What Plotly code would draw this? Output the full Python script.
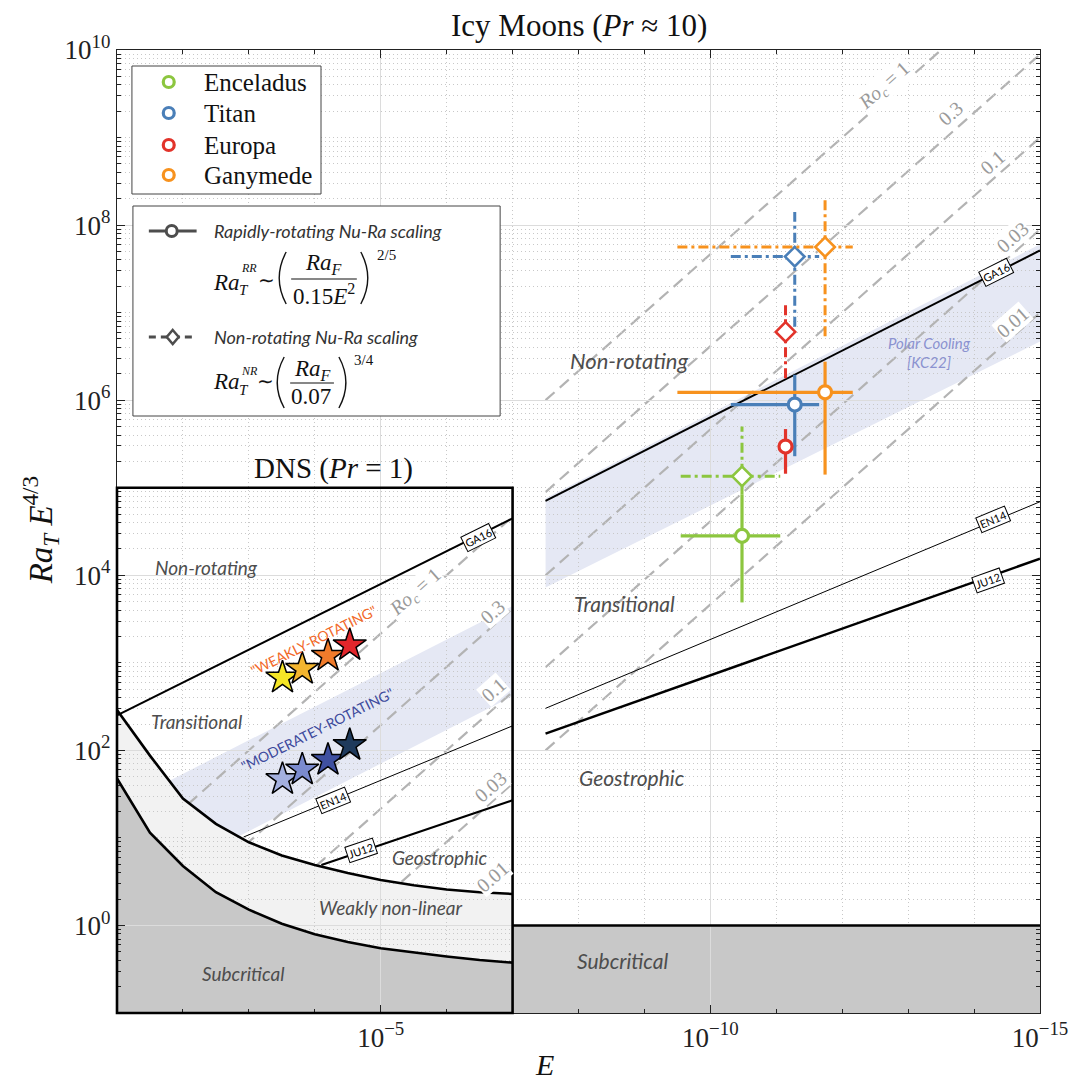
import numpy as np
import plotly.graph_objects as go

# ---------------- DATA (log10 values) ----------------
# Main panel: Icy moons (Pr ~ 10)
ga16_main_logE = [-7.5, -15.0]
ga16_main_logRa = [4.85, 7.71]
en14_main_logE = [-7.5, -15.0]
en14_main_logRa = [2.48, 4.84]
ju12_main_logE = [-7.5, -15.0]
ju12_main_logRa = [2.19, 4.19]
kc22_logE = [-7.5, -15.0]
kc22_upper_logRa = [4.88, 7.78]
kc22_lower_logRa = [3.86, 6.67]

roc_labels = ["1", "0.3", "0.1", "0.03", "0.01"]
roc_main_logE = [-7.5, -15.0]
roc_main_logRa_start = [6.0, 4.95, 4.0, 2.95, 2.0]
roc_main_logRa_end = [11.0, 9.95, 9.0, 7.95, 7.0]

subcrit_main_logE = [-7.0, -15.0]
subcrit_main_logRa = [0.0, 0.0]

moons = ["Enceladus", "Titan", "Europa", "Ganymede"]
moon_colors = ["#8cc63f", "#4a7fb8", "#e2332a", "#f7921e"]
moon_logE = [-10.48, -11.28, -11.14, -11.74]
moon_logE_left = [-9.55, -10.31, -11.14, -9.50]
moon_logE_right = [-11.06, -11.65, -11.14, -12.16]
rr_logRa = [4.45, 5.95, 5.47, 6.09]
rr_logRa_lo = [3.69, 5.36, 5.16, 5.15]
rr_logRa_hi = [4.92, 6.29, 5.67, 6.44]
nr_logRa = [5.13, 7.64, 6.78, 7.75]
nr_logRa_lo = [4.92, 6.84, 6.25, 6.73]
nr_logRa_hi = [5.70, 8.15, 7.13, 8.29]

# Inset: DNS (Pr = 1)
ga16_dns_logE = [-1.0, -7.0]
ga16_dns_logRa = [2.40, 4.65]
en14_dns_logE = [-2.92, -7.0]
en14_dns_logRa = [1.01, 2.28]
ju12_dns_logE = [-4.10, -7.0]
ju12_dns_logRa = [0.69, 1.43]
band_dns_logE = [-1.5, -7.0]
band_dns_upper_logRa = [1.54, 3.65]
band_dns_lower_logRa = [0.50, 2.62]
roc_dns_logE = [-1.0, -7.0]
roc_dns_logRa_start = [0.667, -0.379, -1.333, -2.379, -3.333]
roc_dns_logRa_end = [4.667, 3.621, 2.667, 1.621, 0.667]

curve_logE = [-1.0, -1.5, -2.0, -2.5, -3.0, -3.5, -4.0, -4.5, -5.0, -5.5, -6.0, -6.5, -7.0]
wnl_upper_logRa = [2.46, 1.94, 1.45, 1.16, 0.95, 0.80, 0.69, 0.60, 0.52, 0.46, 0.41, 0.38, 0.36]
onset_logRa = [1.68, 1.06, 0.68, 0.38, 0.18, 0.02, -0.10, -0.19, -0.26, -0.31, -0.355, -0.395, -0.425]

star_logE = [-3.51, -3.81, -4.20, -4.53]
weak_logRa = [2.83, 2.93, 3.08, 3.20]
moder_logRa = [1.67, 1.78, 1.89, 2.06]
weak_colors = ["#f5e626", "#f3b52f", "#f07b2b", "#e2262b"]
moder_colors = ["#a4b0df", "#7b8bcf", "#3f50a0", "#1f3a5c"]

x_tick_vals = [1e-5, 1e-10, 1e-15]
x_tick_text = ["10<sup>\u22125</sup>", "10<sup>\u221210</sup>", "10<sup>\u221215</sup>"]
y_tick_vals = [1e0, 1e2, 1e4, 1e6, 1e8, 1e10]
y_tick_text = ["10<sup>0</sup>", "10<sup>2</sup>", "10<sup>4</sup>", "10<sup>6</sup>", "10<sup>8</sup>", "10<sup>10</sup>"]


def P10(v):
    return [None if a is None else 10.0 ** a for a in v]


# ---------------- geometry helpers (page pixel -> paper) ----------------
L, R, T, B = 117, 1044.5, 50, 1013   # plot area on the page
OFF = 8                               # default body margin of the html page
W = H = 1072


def PX(px):
    return (px - L) / (R - L)


def PY(py):
    return (B - py) / (B - T)


def DX(logE):
    return (-1.0 - logE) / 14.0


def DY(logR):
    return (logR + 1.0) / 11.0


fig = go.Figure()
BG = dict(xaxis="x", yaxis="y", showlegend=False, hoverinfo="skip")
TOP = dict(xaxis="x3", yaxis="y3", showlegend=False, hoverinfo="skip")

# ---- fills (bottom subplot) ----
fig.add_trace(go.Scatter(x=P10(kc22_logE + kc22_logE[::-1]),
                         y=P10(kc22_upper_logRa + kc22_lower_logRa[::-1]),
                         fill="toself", fillcolor="#e5e8f4", line=dict(width=0), mode="lines", **BG))
fig.add_trace(go.Scatter(x=P10(band_dns_logE + band_dns_logE[::-1]),
                         y=P10(band_dns_upper_logRa + band_dns_lower_logRa[::-1]),
                         fill="toself", fillcolor="#e5e8f4", line=dict(width=0), mode="lines", **BG))

rx, ry = [], []
for a, b in zip(roc_main_logRa_start, roc_main_logRa_end):
    rx += roc_main_logE + [None]
    ry += [a, b, None]
for a, b in zip(roc_dns_logRa_start, roc_dns_logRa_end):
    rx += roc_dns_logE + [None]
    ry += [a, b, None]
fig.add_trace(go.Scatter(x=P10(rx), y=P10(ry), mode="lines",
                         line=dict(color="#b3b3b3", width=2.2, dash="12px,7px"), **BG))

fig.add_trace(go.Scatter(x=P10(curve_logE + curve_logE[::-1]),
                         y=P10(wnl_upper_logRa + onset_logRa[::-1]),
                         fill="toself", fillcolor="#f2f2f2", line=dict(width=0), mode="lines", **BG))
fig.add_trace(go.Scatter(x=P10(curve_logE + [-7.0, -1.0]),
                         y=P10(onset_logRa + [-1.3, -1.3]),
                         fill="toself", fillcolor="#c8c8c8", line=dict(width=0), mode="lines", **BG))
fig.add_trace(go.Scatter(x=P10(subcrit_main_logE + subcrit_main_logE[::-1]),
                         y=P10(subcrit_main_logRa + [-1.3, -1.3]),
                         fill="toself", fillcolor="#c8c8c8", line=dict(width=0), mode="lines", **BG))

# dummy on grid subplot
fig.add_trace(go.Scatter(x=[None], y=[None], xaxis="x2", yaxis="y2", showlegend=False, hoverinfo="skip"))

# ---- lines (top subplot) ----
fig.add_trace(go.Scatter(x=P10(curve_logE), y=P10(wnl_upper_logRa), mode="lines",
                         line=dict(color="black", width=2.6), **TOP))
fig.add_trace(go.Scatter(x=P10(curve_logE), y=P10(onset_logRa), mode="lines",
                         line=dict(color="black", width=2.6), **TOP))
fig.add_trace(go.Scatter(x=P10(subcrit_main_logE), y=P10(subcrit_main_logRa), mode="lines",
                         line=dict(color="black", width=2.6), **TOP))
for ex, ey, w in [(ga16_main_logE, ga16_main_logRa, 2.0), (en14_main_logE, en14_main_logRa, 1.0),
                  (ju12_main_logE, ju12_main_logRa, 2.4), (ga16_dns_logE, ga16_dns_logRa, 2.0),
                  (en14_dns_logE, en14_dns_logRa, 1.0), (ju12_dns_logE, ju12_dns_logRa, 2.2)]:
    fig.add_trace(go.Scatter(x=P10(ex), y=P10(ey), mode="lines",
                             line=dict(color="black", width=w), **TOP))

# ---- moons: error bars and markers ----
for i, name in enumerate(moons):
    c = moon_colors[i]
    xs = [moon_logE_left[i], moon_logE_right[i], None, moon_logE[i], moon_logE[i]]
    ys = [nr_logRa[i], nr_logRa[i], None, nr_logRa_lo[i], nr_logRa_hi[i]]
    fig.add_trace(go.Scatter(x=P10(xs), y=P10(ys), mode="lines",
                             line=dict(color=c, width=3, dash="10px,4px,3px,4px"), **TOP))
    ys = [rr_logRa[i], rr_logRa[i], None, rr_logRa_lo[i], rr_logRa_hi[i]]
    fig.add_trace(go.Scatter(x=P10(xs), y=P10(ys), mode="lines",
                             line=dict(color=c, width=3.2), **TOP))
    fig.add_trace(go.Scatter(x=P10([moon_logE[i]]), y=P10([nr_logRa[i]]), mode="markers",
                             marker=dict(symbol="diamond", size=15, color="white",
                                         line=dict(color=c, width=2.6)), **TOP))
    fig.add_trace(go.Scatter(x=P10([moon_logE[i]]), y=P10([rr_logRa[i]]), mode="markers",
                             marker=dict(symbol="circle", size=13, color="white",
                                         line=dict(color=c, width=3.2)), **TOP))

# ---- DNS stars ----
fig.add_trace(go.Scatter(x=P10(star_logE), y=P10(weak_logRa), mode="markers",
                         marker=dict(symbol="star", size=25, color=weak_colors,
                                     line=dict(color="black", width=1.5)), **TOP))
fig.add_trace(go.Scatter(x=P10(star_logE), y=P10(moder_logRa), mode="markers",
                         marker=dict(symbol="star", size=25, color=moder_colors,
                                     line=dict(color="black", width=1.5)), **TOP))

# ---------------- annotations ----------------
anns = []


def ann(px, py, text, size=20, color="#4d4d4d", family="Lato", angle=0,
        xanchor="center", yanchor="middle", **kw):
    d = dict(x=PX(px), y=PY(py), xref="paper", yref="paper", text=text, showarrow=False,
             font=dict(size=size, color=color, family=family), textangle=angle,
             xanchor=xanchor, yanchor=yanchor)
    d.update(kw)
    anns.append(d)


def box(px, py, text, angle):
    ann(px, py, text, size=11, color="black", family="Lato", angle=angle,
        bgcolor="white", bordercolor="black", borderwidth=1, borderpad=1)


SERIF = "Liberation Serif"
# titles
ann(581, 25, "Icy Moons (<i>Pr</i> \u2248 10)", size=31, color="#111", family=SERIF)
ann(335, 468, "DNS (<i>Pr</i> = 1)", size=29, color="#111", family=SERIF)
ann(40, 530, "<i>Ra<sub>T</sub> E</i><sup>4/3</sup>", size=33, color="#111", family=SERIF, angle=-90)
ann(547, 1064, "<i>E</i>", size=30, color="#111", family=SERIF)

# main region labels
ann(632, 360, "<i>Non-rotating</i>", size=22)
ann(627, 603, "<i>Transitional</i>", size=21)
ann(635, 777, "<i>Geostrophic</i>", size=21)
ann(625, 960, "<i>Subcritical</i>", size=21)
ann(933, 343, "<i>Polar Cooling</i>", size=15, color="#8b92d0")
ann(933, 362, "<i>[KC22]</i>", size=15, color="#8b92d0")
box(1000, 272, "GA16", -26.7)
box(997, 519, "EN14", -22.5)
box(992, 580, "JU12", -19.5)

# Ro_c labels
ROC_ANG = -41.3
main_roc_pos = [(888, 86), (955, 113), (997, 162), (1017, 237), (1017, 322)]
dns_roc_pos = [(417, 592), (494, 612), (495, 690), (492, 787), (494, 877)]
for pos_list in (main_roc_pos, dns_roc_pos):
    for (px, py), lab in zip(pos_list, roc_labels):
        t = "<i>Ro<sub>c</sub></i> = 1" if lab == "1" else lab
        ann(px, py, t, size=20, color="#9a9a9a", family=SERIF, angle=ROC_ANG,
            bgcolor="white", borderpad=0)

# inset labels
ann(207, 567, "<i>Non-rotating</i>", size=19)
ann(197, 721, "<i>Transitional</i>", size=19)
ann(442, 857, "<i>Geostrophic</i>", size=19)
ann(392, 907, "<i>Weakly non-linear</i>", size=19)
ann(244, 973, "<i>Subcritical</i>", size=19)
ann(314, 640, "\"WEAKLY-ROTATING\"", size=14, color="#f26a2a", angle=-26.5)
ann(318, 729, "\"MODERATEY-ROTATING\"", size=14, color="#3d4a9c", angle=-26.5)
box(480, 537, "GA16", -26.2)
box(334, 800, "EN14", -22.2)
box(362, 850, "JU12", -18.5)

# legend 1 text
for name, yy in zip(moons, [82, 113, 145, 175]):
    ann(202, yy, name, size=25, color="#111", family=SERIF, xanchor="left")

# legend 2 text
ann(212, 231, "<i>Rapidly-rotating Nu-Ra scaling</i>", size=18, color="#333", xanchor="left")
ann(212, 337, "<i>Non-rotating Nu-Ra scaling</i>", size=18, color="#333", xanchor="left")
# formula 1
ann(211, 282, "<i>Ra</i>", size=23, color="#111", family=SERIF, xanchor="left")
ann(238, 290, "<i>T</i>", size=15, color="#111", family=SERIF, xanchor="left")
ann(240, 268, "<i>RR</i>", size=12, color="#111", family=SERIF, xanchor="left")
ann(267, 280, "\u223c", size=20, color="#111", family=SERIF)
ann(325, 264, "<i>Ra<sub>F</sub></i>", size=23, color="#111", family=SERIF)
ann(325, 294, "0.15<i>E</i><sup>2</sup>", size=23, color="#111", family=SERIF)
ann(388, 255, "2/5", size=15, color="#111", family=SERIF)
# formula 2
ann(211, 382, "<i>Ra</i>", size=23, color="#111", family=SERIF, xanchor="left")
ann(238, 390, "<i>T</i>", size=15, color="#111", family=SERIF, xanchor="left")
ann(240, 371, "<i>NR</i>", size=12, color="#111", family=SERIF, xanchor="left")
ann(266, 381, "\u223c", size=20, color="#111", family=SERIF)
ann(313, 370, "<i>Ra<sub>F</sub></i>", size=23, color="#111", family=SERIF)
ann(312, 396, "0.07", size=23, color="#111", family=SERIF)
ann(365, 360, "3/4", size=15, color="#111", family=SERIF)

# ---------------- shapes ----------------
shapes = []
shapes.append(dict(type="rect", xref="paper", yref="paper", x0=DX(-1.0), x1=DX(-7.0), y0=DY(-1.0), y1=DY(5.0),
                   line=dict(color="black", width=2.6), layer="above"))
shapes.append(dict(type="rect", xref="paper", yref="paper", x0=PX(132), x1=PX(322), y0=PY(194), y1=PY(66),
                   line=dict(color="#444", width=1), fillcolor="white", layer="above"))
shapes.append(dict(type="rect", xref="paper", yref="paper", x0=PX(133), x1=PX(502), y0=PY(416), y1=PY(206),
                   line=dict(color="#444", width=1), fillcolor="white", layer="above"))


def circ(cx, cy, r, color, w):
    shapes.append(dict(type="circle", xref="paper", yref="paper", x0=PX(cx - r), x1=PX(cx + r),
                       y0=PY(cy + r), y1=PY(cy - r), line=dict(color=color, width=w),
                       fillcolor="white", layer="above"))


def paren(x_end, x_mid, y0, y1):
    ym = 0.5 * (y0 + y1)
    shapes.append(dict(type="path", xref="paper", yref="paper",
                       path=f"M {PX(x_end)},{PY(y0)} Q {PX(x_mid)},{PY(ym)} {PX(x_end)},{PY(y1)}",
                       line=dict(color="#111", width=1.4), layer="above"))


for c, yy in zip(moon_colors, [82, 113, 145, 175]):
    circ(169, yy, 5.5, c, 3.2)

shapes.append(dict(type="line", xref="paper", yref="paper", x0=PX(149), x1=PX(197), y0=PY(231), y1=PY(231),
                   line=dict(color="#4d4d4d", width=3), layer="above"))
circ(172, 231, 5.5, "#4d4d4d", 3)
shapes.append(dict(type="line", xref="paper", yref="paper", x0=PX(149), x1=PX(197), y0=PY(337), y1=PY(337),
                   line=dict(color="#4d4d4d", width=3, dash="7px,5px"), layer="above"))
cx, cy = 173, 337
shapes.append(dict(type="path", xref="paper", yref="paper",
                   path=f"M {PX(cx)},{PY(cy-7)} L {PX(cx+6)},{PY(cy)} L {PX(cx)},{PY(cy+7)} L {PX(cx-6)},{PY(cy)} Z",
                   line=dict(color="#4d4d4d", width=2.5), fillcolor="white", layer="above"))
shapes.append(dict(type="line", xref="paper", yref="paper", x0=PX(292), x1=PX(358), y0=PY(279), y1=PY(279),
                   line=dict(color="#111", width=1.2), layer="above"))
shapes.append(dict(type="line", xref="paper", yref="paper", x0=PX(291), x1=PX(335), y0=PY(383), y1=PY(383),
                   line=dict(color="#111", width=1.2), layer="above"))
paren(287, 273, 252, 304)
paren(362, 376, 252, 304)
paren(285, 271, 357, 408)
paren(340, 354, 357, 408)

# ---------------- axes ----------------
x_minor = [10.0 ** -k for k in range(2, 15) if k not in (5, 10)]
y_minor = [m * 10.0 ** n for n in range(-1, 10) for m in range(1, 10)
           if not (m == 1 and n % 2 == 0) and m * 10.0 ** n > 0.1]

hidden = dict(type="log", domain=[0, 1], visible=False)
tickfont = dict(family=SERIF, size=27, color="#222")
fig.update_layout(
    width=W, height=H,
    margin=dict(l=L - OFF, r=W - (R - OFF), t=T - OFF, b=H - (B - OFF), pad=0),
    paper_bgcolor="white", plot_bgcolor="rgba(0,0,0,0)",
    showlegend=False,
    xaxis=dict(hidden, range=[-1, -15], anchor="y"),
    yaxis=dict(hidden, range=[-1, 10], anchor="x"),
    xaxis3=dict(hidden, range=[-1, -15], anchor="y3"),
    yaxis3=dict(hidden, range=[-1, 10], anchor="x3"),
    xaxis2=dict(type="log", range=[-1, -15], domain=[0, 1], anchor="y2",
                showline=True, linecolor="#222", linewidth=1.3, mirror="allticks",
                ticks="inside", ticklen=8, tickwidth=1.2, tickcolor="#222",
                tickvals=x_tick_vals, ticktext=x_tick_text, tickfont=tickfont,
                showgrid=True, gridcolor="#dcdcdc", gridwidth=1, zeroline=False,
                minor=dict(tickvals=x_minor, ticks="inside", ticklen=4, tickcolor="#222",
                           showgrid=True, gridcolor="#c8c8c8", griddash="1px,3px", gridwidth=1)),
    yaxis2=dict(type="log", range=[-1, 10], domain=[0, 1], anchor="x2",
                showline=True, linecolor="#222", linewidth=1.3, mirror="allticks",
                ticks="inside", ticklen=8, tickwidth=1.2, tickcolor="#222",
                tickvals=y_tick_vals, ticktext=y_tick_text, tickfont=tickfont,
                showgrid=True, gridcolor="#dcdcdc", gridwidth=1, zeroline=False,
                minor=dict(tickvals=y_minor, ticks="inside", ticklen=4, tickcolor="#222",
                           showgrid=True, gridcolor="#c8c8c8", griddash="1px,3px", gridwidth=1)),
    annotations=anns,
    shapes=shapes,
)

fig.write_html("out.html")
